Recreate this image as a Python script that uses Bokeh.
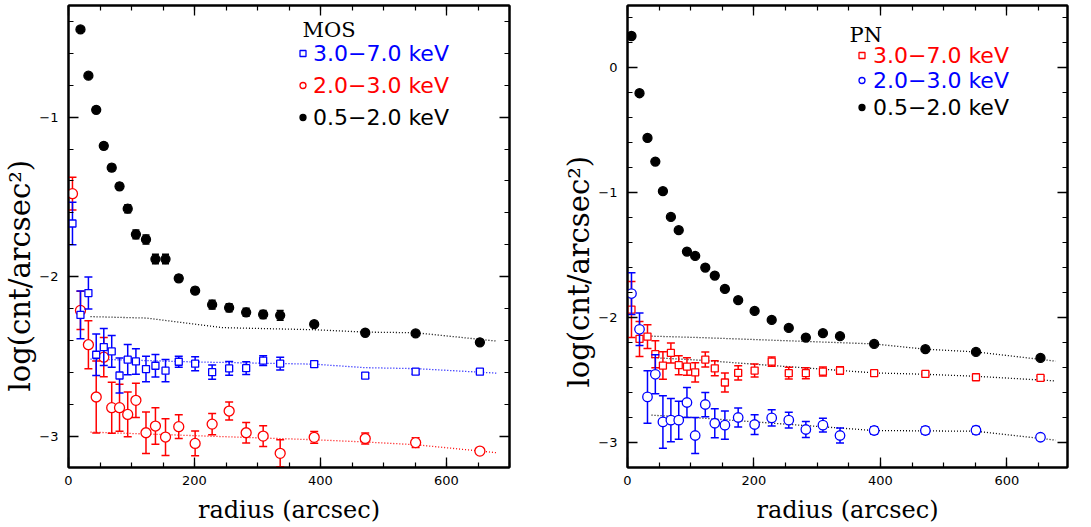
import numpy as np
from bokeh.plotting import figure
from bokeh.layouts import row
from bokeh.models import (LinearAxis, SingleIntervalTicker, CustomJSTickFormatter, Label, Title,
                          Legend, LegendItem, Range1d, ColumnDataSource)
from bokeh.embed import file_html
from bokeh.resources import INLINE

# ---------------- data ----------------
radius = [6.3, 19, 31.6, 44, 56, 68.6, 81, 94, 107, 123, 138, 154, 175, 201, 228, 255,
          282, 309, 336, 390, 471, 551, 653]

# MOS panel
mos_soft_r = radius[1:]
mos_soft = [-0.45, -0.74, -0.954, -1.18, -1.317, -1.434, -1.574, -1.735, -1.767, -1.89, -1.89,
            -2.011, -2.088, -2.176, -2.195, -2.224, -2.237, -2.243, -2.298, -2.352, -2.356, -2.412]
mos_soft_err = [0.012, 0.012, 0.015, 0.02, 0.02, 0.02, 0.025, 0.028, 0.028, 0.03, 0.03,
                0.02, 0.02, 0.027, 0.025, 0.025, 0.025, 0.03, 0.012, 0.01, 0.01, 0.01]
mos_hard = [-1.667, -2.24, -2.103, -2.49, -2.442, -2.469, -2.62, -2.521, -2.532, -2.58, -2.559,
            -2.59, -2.534, -2.546, -2.599, -2.576, -2.574, -2.527, -2.546, -2.549, -2.621, -2.596, -2.596]
mos_hard_err = [0.134, 0.15, 0.10, 0.13, 0.116, 0.10, 0.11, 0.095, 0.08, 0.08, 0.07, 0.07,
                0.035, 0.044, 0.044, 0.043, 0.04, 0.03, 0.04, 0.018, 0.017, 0.017, 0.012]
mos_mid = [-1.48, -2.212, -2.427, -2.755, -2.505, -2.822, -2.822, -2.864, -2.776, -2.979, -2.937,
           -3.006, -2.941, -3.046, -2.925, -2.843, -2.979, -3.0, -3.108, -3.008, -3.015, -3.041, -3.094]
mos_mid_err = [0.103, 0.12, 0.15, 0.226, 0.123, 0.16, 0.147, 0.14, 0.107, 0.13, 0.114, 0.115,
               0.074, 0.078, 0.067, 0.056, 0.064, 0.065, 0.085, 0.037, 0.035, 0.03, 0.02]

mos_model_r = [35, 124, 245, 300, 390, 471, 551, 679]
mos_model_soft = [-2.251, -2.26, -2.32, -2.325, -2.333, -2.348, -2.352, -2.404]
mos_model_hard_r = [35, 200, 390, 471, 551, 679]
mos_model_hard = [-2.517, -2.535, -2.549, -2.571, -2.577, -2.605]
mos_model_mid_r = [35, 390, 471, 551, 679]
mos_model_mid = [-2.975, -3.023, -3.037, -3.054, -3.104]

# PN panel
pn_soft = [0.256, -0.202, -0.56, -0.749, -0.986, -1.192, -1.298, -1.469, -1.504, -1.597, -1.661,
           -1.768, -1.858, -1.944, -2.016, -2.08, -2.157, -2.122, -2.146, -2.208, -2.25, -2.272, -2.32]
pn_soft_err = [0.01] * 23
pn_hard = [-1.933, -2.168, -2.149, -2.29, -2.381, -2.28, -2.378, -2.389, -2.435, -2.333, -2.403,
           -2.517, -2.44, -2.421, -2.349, -2.442, -2.442, -2.429, -2.421, -2.442, -2.448, -2.475, -2.48]
pn_hard_err = [0.224, 0.14, 0.095, 0.108, 0.11, 0.08, 0.076, 0.07, 0.077, 0.06, 0.06, 0.076,
               0.057, 0.052, 0.037, 0.047, 0.044, 0.036, 0.03, 0.015, 0.015, 0.015, 0.013]
pn_mid = [-1.805, -2.091, -2.632, -2.451, -2.832, -2.818, -2.818, -2.677, -2.941, -2.693, -2.843,
          -2.858, -2.797, -2.853, -2.8, -2.818, -2.893, -2.858, -2.941, -2.901, -2.901, -2.899, -2.955]
pn_mid_err = [0.167, 0.13, 0.21, 0.156, 0.21, 0.173, 0.152, 0.12, 0.144, 0.097, 0.116, 0.113,
              0.076, 0.079, 0.065, 0.063, 0.064, 0.055, 0.06, 0.03, 0.03, 0.03, 0.02]

pn_model_r = [38, 113, 390, 470, 551, 677]
pn_model_soft = [-2.146, -2.157, -2.208, -2.25, -2.272, -2.346]
pn_model_hard = [-2.317, -2.338, -2.44, -2.451, -2.467, -2.504]
pn_model_mid = [-2.778, -2.80, -2.901, -2.904, -2.907, -2.978]

x_tick_interval = 200
y_tick_interval = 1

label_soft = "0.5\u22122.0 keV"
label_mid = "2.0\u22123.0 keV"
label_hard = "3.0\u22127.0 keV"
y_title = "log(cnt/arcsec\u00b2)"
x_title = "radius (arcsec)"

BLUE = "#0000ff"
RED = "#ff0000"
BLACK = "#000000"

minus_fmt = CustomJSTickFormatter(code="return tick < 0 ? '\u2212' + Math.abs(tick).toFixed(0) : tick.toFixed(0);")


def style_axis(ax, ticker, show_labels):
    ax.ticker = ticker
    ax.major_tick_in = 10
    ax.major_tick_out = 0
    ax.minor_tick_in = 5
    ax.minor_tick_out = 0
    ax.axis_line_width = 2
    ax.axis_line_color = "black"
    ax.major_tick_line_width = 1.3
    ax.minor_tick_line_width = 1.2
    ax.major_tick_line_color = "black"
    ax.minor_tick_line_color = "black"
    if show_labels:
        ax.major_label_text_font = "DejaVu Sans"
        ax.major_label_text_font_size = "13px"
        ax.major_label_text_color = "black"
    else:
        ax.major_label_text_font_size = "1px"
        ax.major_label_text_color = None
        ax.major_label_standoff = 0


def make_fig(width, xmax, ylo, yhi, left, right, title_offset):
    p = figure(width=width, height=527, x_range=Range1d(0, xmax), y_range=Range1d(ylo, yhi),
               output_backend="svg", toolbar_location=None,
               min_border_left=left, min_border_right=right, min_border_top=5, min_border_bottom=60)
    p.grid.visible = False
    p.outline_line_color = "black"
    p.outline_line_width = 2
    p.background_fill_color = "white"
    p.border_fill_color = "white"

    xt = SingleIntervalTicker(interval=x_tick_interval, num_minor_ticks=4)
    yt = SingleIntervalTicker(interval=y_tick_interval, num_minor_ticks=5)
    style_axis(p.xaxis[0], xt, True)
    style_axis(p.yaxis[0], yt, True)
    p.xaxis[0].major_label_standoff = 8
    p.yaxis[0].major_label_standoff = 10
    p.yaxis[0].formatter = minus_fmt
    p.xaxis[0].axis_label = x_title
    p.xaxis[0].axis_label_text_font = "DejaVu Serif"
    p.xaxis[0].axis_label_text_font_size = "24px"
    p.xaxis[0].axis_label_text_font_style = "normal"
    p.xaxis[0].axis_label_text_color = "black"
    p.xaxis[0].axis_label_standoff = 8

    top = LinearAxis()
    style_axis(top, SingleIntervalTicker(interval=x_tick_interval, num_minor_ticks=4), False)
    p.add_layout(top, "above")
    right_ax = LinearAxis()
    style_axis(right_ax, SingleIntervalTicker(interval=y_tick_interval, num_minor_ticks=5), False)
    p.add_layout(right_ax, "right")

    ytitle = Title(text=y_title, align="left", offset=title_offset, standoff=0,
                   text_font="DejaVu Serif", text_font_size="29px", text_font_style="normal",
                   text_color="black")
    p.add_layout(ytitle, "left")
    return p


def add_series(p, r, v, e, marker, size, color, fill, cap):
    v = np.asarray(v, dtype=float)
    e = np.asarray(e, dtype=float)
    src = ColumnDataSource(dict(r=list(r), v=v, lo=v - e, hi=v + e))
    p.segment(x0="r", y0="lo", x1="r", y1="hi", source=src, line_color=color, line_width=1.5)
    p.scatter(x="r", y="lo", marker="dash", size=cap, line_color=color, line_width=1.5, source=src)
    p.scatter(x="r", y="hi", marker="dash", size=cap, line_color=color, line_width=1.5, source=src)
    rr = p.scatter(x="r", y="v", marker=marker, size=size, line_color=color, fill_color=fill,
                   line_width=1.3, source=src)
    return rr


def add_legend(p, renderer, text, color, loc, standoff):
    leg = Legend(items=[LegendItem(label=text, renderers=[renderer])], location=loc,
                 orientation="vertical", padding=0, margin=0, spacing=0,
                 glyph_width=15, glyph_height=28, label_height=28, label_standoff=standoff,
                 label_text_font="DejaVu Sans", label_text_font_size="22px",
                 label_text_color=color, border_line_color=None, background_fill_alpha=0)
    p.add_layout(leg)


# ---------------- MOS ----------------
p1 = make_fig(545, 700, -3.197, -0.3, 65, 36, 76)
p1.line(mos_model_r, mos_model_soft, line_color=BLACK, line_dash="1 2", line_width=1.3)
p1.line(mos_model_hard_r, mos_model_hard, line_color=BLUE, line_dash="1 2", line_width=1.3)
p1.line(mos_model_mid_r, mos_model_mid, line_color=RED, line_dash="1 2", line_width=1.3)
r1_mid = add_series(p1, radius, mos_mid, mos_mid_err, "circle", 10, RED, "white", 8)
r1_hard = add_series(p1, radius, mos_hard, mos_hard_err, "square", 7, BLUE, "white", 8)
r1_soft = add_series(p1, mos_soft_r, mos_soft, mos_soft_err, "circle", 9, BLACK, BLACK, 7)

p1.add_layout(Label(x=234, y=438, x_units="screen", y_units="screen", text="MOS",
                    text_align="left", text_baseline="alphabetic",
                    text_font="DejaVu Serif", text_font_size="21px", text_color="black"))
add_legend(p1, r1_hard, label_hard, BLUE, (227, 400), 3)
add_legend(p1, r1_mid, label_mid, RED, (227, 368), 3)
add_legend(p1, r1_soft, label_soft, BLACK, (227, 336), 3)

# ---------------- PN ----------------
p2 = make_fig(546, 695.7, -3.197, 0.5, 82, 24, 80)
p2.line(pn_model_r, pn_model_soft, line_color=BLACK, line_dash="1 2", line_width=1.3)
p2.line(pn_model_r, pn_model_hard, line_color=BLACK, line_dash="1 2", line_width=1.3)
p2.line(pn_model_r, pn_model_mid, line_color=BLACK, line_dash="1 2", line_width=1.3)
r2_hard = add_series(p2, radius, pn_hard, pn_hard_err, "square", 7, RED, "white", 8)
r2_mid = add_series(p2, radius, pn_mid, pn_mid_err, "circle", 9.5, BLUE, "white", 8)
r2_soft = add_series(p2, radius, pn_soft, pn_soft_err, "circle", 9, BLACK, BLACK, 7)

p2.add_layout(Label(x=222, y=433, x_units="screen", y_units="screen", text="PN",
                    text_align="left", text_baseline="alphabetic",
                    text_font="DejaVu Serif", text_font_size="21px", text_color="black"))
add_legend(p2, r2_hard, label_hard, RED, (227, 398), 4)
add_legend(p2, r2_mid, label_mid, BLUE, (227, 373), 4)
add_legend(p2, r2_soft, label_soft, BLACK, (227, 346), 4)

layout = row(p1, p2)
open("out.html", "w").write(file_html(layout, INLINE))
